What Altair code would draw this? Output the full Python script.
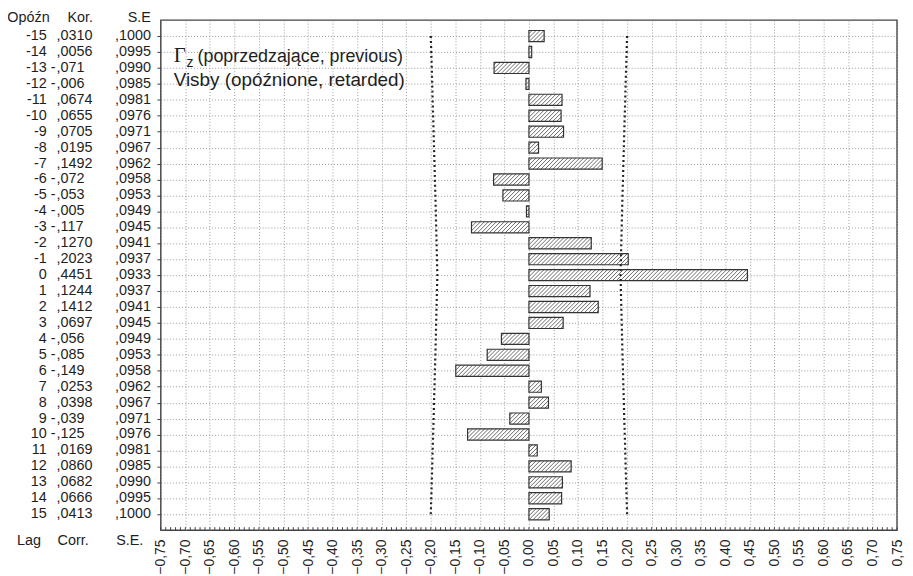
import altair as alt
import pandas as pd

# ---- data ----
lags = list(range(-15, 16))
corr = [0.0310, 0.0056, -0.071, -0.006, 0.0674, 0.0655, 0.0705, 0.0195, 0.1492,
        -0.072, -0.053, -0.005, -0.117, 0.1270, 0.2023, 0.4451, 0.1244, 0.1412,
        0.0697, -0.056, -0.085, -0.149, 0.0253, 0.0398, -0.039, -0.125, 0.0169,
        0.0860, 0.0682, 0.0666, 0.0413]
corr_labels = [",0310", ",0056", "-,071", "-,006", ",0674", ",0655", ",0705", ",0195",
               ",1492", "-,072", "-,053", "-,005", "-,117", ",1270", ",2023", ",4451",
               ",1244", ",1412", ",0697", "-,056", "-,085", "-,149", ",0253", ",0398",
               "-,039", "-,125", ",0169", ",0860", ",0682", ",0666", ",0413"]
se = [0.1000, 0.0995, 0.0990, 0.0985, 0.0981, 0.0976, 0.0971, 0.0967, 0.0962, 0.0958,
      0.0953, 0.0949, 0.0945, 0.0941, 0.0937, 0.0933, 0.0937, 0.0941, 0.0945, 0.0949,
      0.0953, 0.0958, 0.0962, 0.0967, 0.0971, 0.0976, 0.0981, 0.0985, 0.0990, 0.0995,
      0.1000]
se_labels = [",1000", ",0995", ",0990", ",0985", ",0981", ",0976", ",0971", ",0967",
             ",0962", ",0958", ",0953", ",0949", ",0945", ",0941", ",0937", ",0933",
             ",0937", ",0941", ",0945", ",0949", ",0953", ",0958", ",0962", ",0967",
             ",0971", ",0976", ",0981", ",0985", ",0990", ",0995", ",1000"]
x_ticks = [round(-0.75 + 0.05 * i, 2) for i in range(31)]
minor_ticks = [round(-0.75 + 0.01 * i, 2) for i in range(151)]

legend_line1 = "(poprzedzające, previous)"
legend_line2 = "Visby (opóźnione, retarded)"

df = pd.DataFrame({"lag": lags, "corr": corr, "kor": corr_labels,
                   "se": se, "sel": se_labels})
df["upper"] = 2 * df["se"]
df["lower"] = -2 * df["se"]

FONT = "Liberation Sans"
TXT = "#1e1e1e"
W, H = 742, 514
HH = 0.35                      # half bar height in lag units
PX_PER_UNIT = W / 1.5
WRUN = round(2 * HH * (H / 32) / PX_PER_UNIT, 5)   # 45 degree hatch run
D = round(4.0 / PX_PER_UNIT, 5)                    # hatch spacing

xscale = alt.Scale(domain=[-0.75, 0.75], nice=False, zero=False)
yscale = alt.Scale(domain=[-16, 16], reverse=True, nice=False, zero=False)

X_AX = alt.Axis(values=x_ticks, title=None,
                labelExpr="replace(format(datum.value, '.2f'), '.', ',')",
                labelAngle=270, labelFontSize=14, labelColor=TXT, labelFont=FONT,
                ticks=False, labelPadding=9, domain=False,
                grid=True, gridDash=[1, 2], gridColor="#9a9a9a", gridWidth=1)
Y_AX = alt.Axis(values=lags, labels=False, title=None, ticks=True, tickSize=4,
                tickColor="#444", domain=False,
                grid=True, gridDash=[1, 2], gridColor="#9a9a9a", gridWidth=1)

def X(f):
    return alt.X(f, scale=xscale, axis=X_AX, title=None)

def Y(f):
    return alt.Y(f, scale=yscale, axis=Y_AX, title=None)

base = alt.Chart(df)

bars_fill = base.transform_calculate(
    lo="min(0, datum.corr)", hi="max(0, datum.corr)",
    y1=f"datum.lag - {HH}", y2=f"datum.lag + {HH}"
).mark_rect(fill="white", stroke=None).encode(
    x=X("lo:Q"), x2="hi:Q", y=Y("y1:Q"), y2="y2:Q",
)

hatch = base.transform_calculate(
    lo="min(0, datum.corr)", hi="max(0, datum.corr)"
).transform_calculate(
    ks=f"sequence(floor((datum.lo - {WRUN}) / {D}) * {D}, datum.hi, {D})"
).transform_flatten(["ks"]).transform_calculate(
    t0=f"max(0, (datum.lo - datum.ks) / {WRUN})",
    t1=f"min(1, (datum.hi - datum.ks) / {WRUN})"
).transform_filter("datum.t1 > datum.t0").transform_calculate(
    hx1=f"datum.ks + datum.t0 * {WRUN}",
    hx2=f"datum.ks + datum.t1 * {WRUN}",
    hy1=f"datum.lag + {HH} - datum.t0 * {2 * HH}",
    hy2=f"datum.lag + {HH} - datum.t1 * {2 * HH}",
).mark_rule(color="#444", strokeWidth=0.8).encode(
    x=X("hx1:Q"), x2="hx2:Q", y=Y("hy1:Q"), y2="hy2:Q",
)

bars_outline = base.transform_calculate(
    lo="min(0, datum.corr)", hi="max(0, datum.corr)",
    y1=f"datum.lag - {HH}", y2=f"datum.lag + {HH}"
).mark_rect(fill="white", fillOpacity=0, stroke="#333", strokeWidth=1.2).encode(
    x=X("lo:Q"), x2="hi:Q", y=Y("y1:Q"), y2="y2:Q",
)

conf_up = base.mark_line(color="#222", strokeWidth=2.2, strokeDash=[2, 3]).encode(
    x=X("upper:Q"), y=Y("lag:Q"), order="lag:Q",
)
conf_lo = base.mark_line(color="#222", strokeWidth=2.2, strokeDash=[2, 3]).encode(
    x=X("lower:Q"), y=Y("lag:Q"), order="lag:Q",
)

minor = alt.Chart(pd.DataFrame({"m": minor_ticks})).mark_rule(
    color="#444", strokeWidth=1).encode(
    x=X("m:Q"), y=alt.value(H - 3), y2=alt.value(H),
)

def tcol(field, xpx, align, expr=None):
    c = base
    if expr is not None:
        c = c.transform_calculate(**{field: expr})
    return c.mark_text(font=FONT, fontSize=14.5, color=TXT, align=align,
                       baseline="middle").encode(
        x=alt.value(xpx), y=Y("lag:Q"), text=f"{field}:N",
    )

lag_col = tcol("lagtxt", -115, "right", "'' + datum.lag")
sign_col = tcol("sgn", -106, "right", "indexof(datum.kor, '-') == 0 ? '-' : ''")
kor_col = tcol("num", -105, "left", "replace(datum.kor, '-', '')")
se_col = tcol("sel", -10, "right")

hdr_df = pd.DataFrame({
    "t": ["Opóźn", "Kor.", "S.E", "Lag", "Corr.", "S.E."],
    "px": [-112, -94, -10, -145, -104, -45],
    "py": [-2, -2, -2, 525, 525, 525],
    "al": ["right", "left", "right", "left", "left", "left"],
})
headers = []
for _, r in hdr_df.iterrows():
    headers.append(
        alt.Chart(pd.DataFrame({"t": [r["t"]]})).mark_text(
            font=FONT, fontSize=14.5, color=TXT, align=r["al"], baseline="middle"
        ).encode(x=alt.value(r["px"]), y=alt.value(r["py"]), text="t:N")
    )

leg_gamma = alt.Chart(pd.DataFrame({"t": ["Γ"]})).mark_text(
    font="Liberation Serif", fontSize=21, color=TXT, align="left", baseline="middle"
).encode(x=alt.value(13), y=alt.value(36), text="t:N")
leg_z = alt.Chart(pd.DataFrame({"t": ["z"]})).mark_text(
    font=FONT, fontSize=14, color=TXT, align="left", baseline="middle"
).encode(x=alt.value(26), y=alt.value(43), text="t:N")
leg_1 = alt.Chart(pd.DataFrame({"t": [legend_line1]})).mark_text(
    font=FONT, fontSize=18, color=TXT, align="left", baseline="middle"
).encode(x=alt.value(37), y=alt.value(37), text="t:N")
leg_2 = alt.Chart(pd.DataFrame({"t": [legend_line2]})).mark_text(
    font=FONT, fontSize=19, color=TXT, align="left", baseline="middle"
).encode(x=alt.value(13), y=alt.value(60), text="t:N")

chart = alt.layer(
    bars_fill, hatch, bars_outline, conf_up, conf_lo, minor,
    lag_col, sign_col, kor_col, se_col, *headers,
    leg_gamma, leg_z, leg_1, leg_2,
).properties(
    width=W, height=H,
    padding={"left": 154, "top": 10, "right": 8, "bottom": 44},
    autosize=alt.AutoSizeParams(type="none"),
    background="white",
).configure_view(
    stroke="#444", strokeWidth=1.5
)

chart.save("out.html", embed_options={"renderer": "svg", "actions": False})
